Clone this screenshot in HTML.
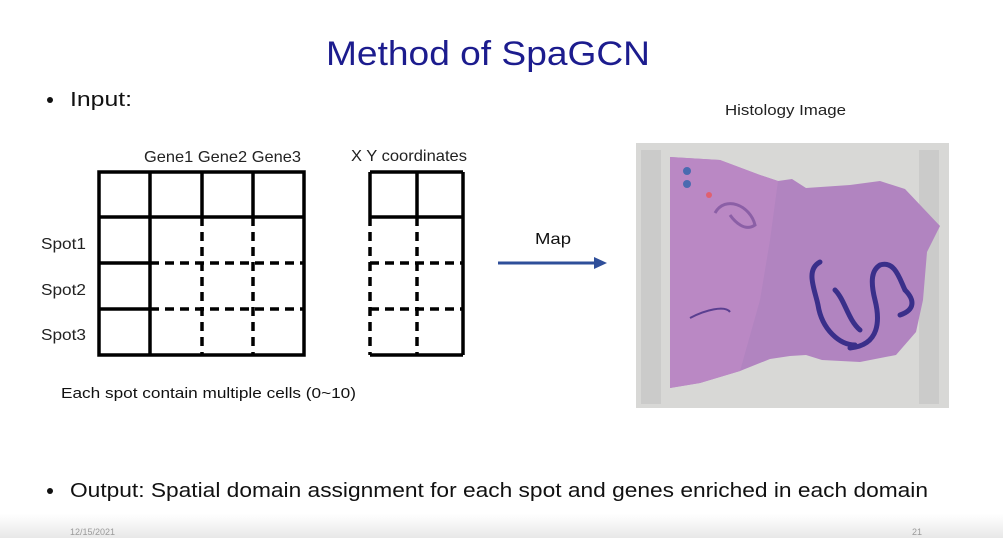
<!DOCTYPE html>
<html><head><meta charset="utf-8"><style>
html,body{margin:0;padding:0;background:#fff;}
svg{display:block;font-family:"Liberation Sans",sans-serif;}
</style></head><body>
<svg width="1003" height="538" viewBox="0 0 1003 538" xmlns="http://www.w3.org/2000/svg">
<defs><linearGradient id="ft" x1="0" y1="0" x2="0" y2="1"><stop offset="0" stop-color="#ffffff"/><stop offset="1" stop-color="#e8e8e8"/></linearGradient></defs>
<rect width="1003" height="538" fill="#fff"/>
<rect x="0" y="514" width="1003" height="24" fill="url(#ft)"/>
<text x="488" y="65" font-size="34" fill="#1c1c8e" text-anchor="middle" textLength="324" lengthAdjust="spacingAndGlyphs">Method of SpaGCN</text>
<circle cx="50" cy="100" r="3" fill="#111"/>
<text x="70" y="106" font-size="20" fill="#111" textLength="62" lengthAdjust="spacingAndGlyphs">Input:</text>
<text x="144" y="162" font-size="16" fill="#222" textLength="157" lengthAdjust="spacingAndGlyphs">Gene1 Gene2 Gene3</text>
<text x="351" y="161" font-size="16" fill="#222" textLength="116" lengthAdjust="spacingAndGlyphs">X Y coordinates</text>
<text x="41" y="249" font-size="16" fill="#222" textLength="45" lengthAdjust="spacingAndGlyphs">Spot1</text>
<text x="41" y="295" font-size="16" fill="#222" textLength="45" lengthAdjust="spacingAndGlyphs">Spot2</text>
<text x="41" y="340" font-size="16" fill="#222" textLength="45" lengthAdjust="spacingAndGlyphs">Spot3</text>
<g stroke="#000" stroke-width="3.5" fill="none">
<rect x="99" y="172" width="205" height="183"/>
<line x1="150" y1="172" x2="150" y2="355"/>
<line x1="202" y1="172" x2="202" y2="217"/>
<line x1="253" y1="172" x2="253" y2="217"/>
<line x1="99" y1="217" x2="304" y2="217"/>
<line x1="99" y1="263" x2="150" y2="263"/>
<line x1="99" y1="309" x2="150" y2="309"/>
<line x1="370" y1="172" x2="463" y2="172"/>
<line x1="370" y1="172" x2="370" y2="217"/>
<line x1="463" y1="172" x2="463" y2="355"/>
<line x1="417" y1="172" x2="417" y2="217"/>
<line x1="370" y1="217" x2="463" y2="217"/>
<line x1="370" y1="355" x2="463" y2="355"/>
</g>
<g stroke="#000" stroke-width="3.5" fill="none" stroke-dasharray="9,6">
<line x1="202" y1="217" x2="202" y2="355"/>
<line x1="253" y1="217" x2="253" y2="355"/>
<line x1="150" y1="263" x2="304" y2="263"/>
<line x1="150" y1="309" x2="304" y2="309"/>
<line x1="370" y1="217" x2="370" y2="355"/>
<line x1="417" y1="217" x2="417" y2="355"/>
<line x1="370" y1="263" x2="463" y2="263"/>
<line x1="370" y1="309" x2="463" y2="309"/>
</g>
<text x="61" y="398" font-size="15" fill="#111" textLength="295" lengthAdjust="spacingAndGlyphs">Each spot contain multiple cells (0~10)</text>
<text x="535" y="244" font-size="16" fill="#111" textLength="36" lengthAdjust="spacingAndGlyphs">Map</text>
<line x1="498" y1="263" x2="596" y2="263" stroke="#2f4f9a" stroke-width="3"/>
<polygon points="594,257 607,263 594,269" fill="#2f4f9a"/>
<text x="725" y="115" font-size="15" fill="#222" textLength="121" lengthAdjust="spacingAndGlyphs">Histology Image</text>
<rect x="636" y="143" width="313" height="265" fill="#d8d8d6"/>
<rect x="641" y="150" width="20" height="254" fill="#cbcbca"/>
<rect x="919" y="150" width="20" height="254" fill="#cbcbca"/>
<polygon points="670,157 720,160 760,175 778,181 792,179 806,188 850,185 880,181 905,189 940,226 927,252 923,300 916,332 896,355 860,362 822,360 806,355 790,356 770,359 740,371 700,383 670,388" fill="#b184c0"/>
<polygon points="670,157 720,160 760,175 778,181 770,240 760,300 740,371 700,383 670,388" fill="#ba88c4"/>
<g stroke="#3a2f8a" stroke-width="5" fill="none" stroke-linecap="round">
<path d="M820,262 C805,270 815,290 818,305 C822,330 840,345 855,345"/>
<path d="M850,348 C880,345 880,320 875,300 C870,280 872,270 880,265 C895,260 900,280 905,290"/>
<path d="M905,290 C915,300 915,310 900,315"/>
<path d="M835,290 C845,300 848,320 860,330"/>
</g>
<path d="M715,213 C725,195 750,205 755,225 C745,232 735,222 730,215" stroke="#8b5fa6" stroke-width="3" fill="none"/>
<path d="M690,318 C705,310 725,305 730,312" stroke="#5a3f90" stroke-width="2" fill="none"/>
<circle cx="687" cy="171" r="4" fill="#4a6bb0"/>
<circle cx="687" cy="184" r="4" fill="#4a6bb0"/>
<circle cx="709" cy="195" r="3" fill="#e06070"/>
<circle cx="50" cy="491" r="3" fill="#111"/>
<text x="70" y="497" font-size="20" fill="#111" textLength="858" lengthAdjust="spacingAndGlyphs">Output: Spatial domain assignment for each spot and genes enriched in each domain</text>
<text x="70" y="535" font-size="9" fill="#9a9a9a">12/15/2021</text>
<text x="912" y="535" font-size="9" fill="#9a9a9a">21</text>
</svg>
</body></html>
